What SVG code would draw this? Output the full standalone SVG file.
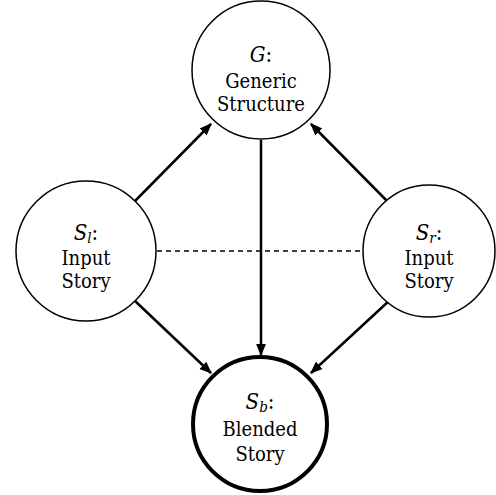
<svg xmlns="http://www.w3.org/2000/svg" width="496" height="495" viewBox="0 0 496 495">
<style>
.node{fill:#fff;stroke:#000;stroke-width:1.5}
.bold{stroke-width:4}
text{font-family:"DejaVu Serif Condensed","DejaVu Serif",serif;font-stretch:condensed;font-size:20px;text-anchor:middle;fill:#000}
.lab{font-size:22px}
.m{font-style:italic}
.sub{font-size:15px;font-style:italic}
.edge{stroke:#000;stroke-width:2.5;fill:none;marker-end:url(#ah)}
.dash{stroke:#000;stroke-width:1.3;stroke-dasharray:5,4;fill:none}
</style>
<defs>
<marker id="ah" viewBox="0 0 10 10" refX="9" refY="5" markerWidth="5" markerHeight="5" orient="auto" markerUnits="strokeWidth">
<path d="M0,1 L10,5 L0,9 Z" fill="#000"/>
</marker>
</defs>
<g id="connectors">
<line class="dash" x1="157" y1="251" x2="363" y2="251"/>
<line class="edge" x1="135" y1="201" x2="211" y2="124"/>
<line class="edge" x1="389" y1="203" x2="311" y2="124"/>
<line class="edge" x1="261" y1="140" x2="261" y2="355"/>
<line class="edge" x1="134" y1="300" x2="211" y2="373"/>
<line class="edge" x1="390" y1="300" x2="311" y2="373"/>
</g>
<g id="G">
<circle class="node" cx="261" cy="70" r="69"/>
<text class="lab" x="261" y="62"><tspan class="m">G</tspan>:</text>
<text x="261" y="88">Generic</text>
<text x="261" y="111">Structure</text>
</g>
<g id="Sl">
<circle class="node" cx="86" cy="251" r="70"/>
<text class="lab" x="86" y="240"><tspan class="m">S</tspan><tspan class="sub" dy="3">l</tspan><tspan dy="-3">:</tspan></text>
<text x="86" y="265">Input</text>
<text x="86" y="288">Story</text>
</g>
<g id="Sr">
<circle class="node" cx="429" cy="251" r="66"/>
<text class="lab" x="429" y="240"><tspan class="m">S</tspan><tspan class="sub" dy="3">r</tspan><tspan dy="-3">:</tspan></text>
<text x="429" y="265">Input</text>
<text x="429" y="288">Story</text>
</g>
<g id="Sb">
<circle class="node bold" cx="260" cy="424" r="67"/>
<text class="lab" x="260" y="409"><tspan class="m">S</tspan><tspan class="sub" dy="3">b</tspan><tspan dy="-3">:</tspan></text>
<text x="260" y="436">Blended</text>
<text x="260" y="461">Story</text>
</g>
</svg>
